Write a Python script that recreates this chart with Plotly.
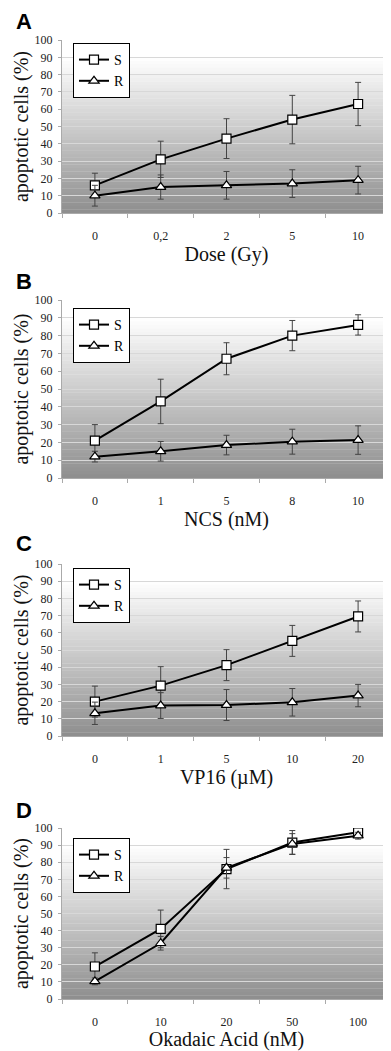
import plotly.graph_objects as go

# ---- data ----
cats_A = ["0", "0,2", "2", "5", "10"]
S_A = [16, 31, 43, 54, 63]
S_A_err = [7, 10.5, 11.5, 14, 12.5]
R_A = [10, 15, 16, 17, 19]
R_A_err = [6, 7, 8, 8, 8]

cats_B = ["0", "1", "5", "8", "10"]
S_B = [21, 43, 67, 80, 86]
S_B_err = [9, 12.5, 9, 8.5, 5.7]
R_B = [12, 15, 18.5, 20.4, 21.3]
R_B_err = [3, 5.5, 5.5, 7, 8]

cats_C = ["0", "1", "5", "10", "20"]
S_C = [20, 29.3, 41.2, 55.3, 69.5]
S_C_err = [9, 11, 9, 9, 9]
R_C = [13.2, 17.7, 18, 19.6, 23.5]
R_C_err = [6.5, 7.5, 9, 8, 6.5]

cats_D = ["0", "10", "20", "50", "100"]
S_D = [19, 41, 76, 91.5, 97.5]
S_D_err = [8, 11, 11.5, 7, 2]
R_D = [10.3, 32.6, 76.7, 90.7, 95.5]
R_D_err = [2, 4, 6, 6, 2]

x_titles = ["Dose (Gy)", "NCS (nM)", "VP16 (\u00b5M)", "Okadaic Acid (nM)"]
panel_letters = ["A", "B", "C", "D"]
y_title = "apoptotic cells (%)"
y_ticks = list(range(0, 101, 10))

panels = [
    (cats_A, S_A, S_A_err, R_A, R_A_err),
    (cats_B, S_B, S_B_err, R_B, R_B_err),
    (cats_C, S_C, S_C_err, R_C, R_C_err),
    (cats_D, S_D, S_D_err, R_D, R_D_err),
]

# page is 391x1051; the html body has an 8px margin, so the figure starts at (8, 8)
OFF = 8
W, H = 391 - OFF, 1051 - OFF
# page-pixel geometry of each plot area (top, bottom)
plot_px = [(40, 213), (300, 478), (564, 736), (828, 999)]
legend_top_px = [43, 308, 568, 838]
letter_px = [22, 282, 543, 810]
x_left_px = 62


def fx(px):
    return (px - OFF) / W


def fy(py):
    return 1 - (py - OFF) / H


SERIF = "Liberation Serif, Times New Roman, DejaVu Serif, serif"
fig = go.Figure()

shapes = []
annotations = []
layout = {}

for i, (cats, S, Se, R, Re) in enumerate(panels):
    n = "" if i == 0 else str(i + 1)
    xa, ya = "x" + n, "y" + n
    leg = "legend" + n
    for name, vals, errs, sym in [("S", S, Se, "square"), ("R", R, Re, "triangle-up")]:
        fig.add_trace(go.Scatter(
            x=cats, y=vals, name=name, xaxis=xa, yaxis=ya, legend=leg,
            mode="lines+markers",
            line=dict(color="black", width=2),
            marker=dict(symbol=sym, size=9, color="white",
                        line=dict(color="black", width=1.2)),
            error_y=dict(type="data", array=errs, visible=True,
                         color="#444", thickness=1, width=3),
        ))
    top, bot = plot_px[i]
    layout["xaxis" + n] = dict(
        domain=[fx(x_left_px), 1.0], anchor=ya, type="category",
        range=[-0.5, 4.5], tickson="boundaries", ticks="outside",
        ticklen=4, tickcolor="#aaa", showline=True, linecolor="#aaa",
        showgrid=False, ticklabelstandoff=12, automargin=False,
        tickfont=dict(family=SERIF, size=12, color="#222"),
        title=dict(text=x_titles[i], standoff=2,
                   font=dict(family=SERIF, size=20, color="#111")),
        fixedrange=True,
    )
    layout["yaxis" + n] = dict(
        domain=[fy(bot), fy(top)], anchor=xa, range=[0, 100], tickvals=y_ticks,
        ticks="outside", ticklen=3, tickcolor="#aaa",
        showline=True, linecolor="#aaa", showgrid=True,
        gridcolor="#d8d8d8", gridwidth=1, zeroline=False,
        ticklabelstandoff=3, automargin=False,
        tickfont=dict(family=SERIF, size=12, color="#222"),
        title=dict(text=y_title, standoff=0,
                   font=dict(family=SERIF, size=20, color="#111")),
        fixedrange=True,
    )
    layout[leg] = dict(
        x=fx(73), y=fy(legend_top_px[i]), xanchor="left", yanchor="top",
        xref="paper", yref="paper",
        bgcolor="white", bordercolor="black", borderwidth=1,
        font=dict(family=SERIF, size=14, color="black"),
        itemwidth=30, tracegroupgap=0,
    )
    # gradient background bands (white at top -> gray at bottom)
    nb = 50
    for b in range(nb):
        t = 1 - (b + 0.5) / nb  # 0 at top, 1 at bottom
        f = max(0.0, (t - 0.1) / 0.9)
        v = int(round(255 - 113 * f))
        shapes.append(dict(
            type="rect", xref=xa + " domain", yref=ya + " domain",
            x0=0, x1=1, y0=b / nb, y1=(b + 1) / nb + 0.002,
            fillcolor=f"rgb({v},{v},{v})", line=dict(width=0), layer="below",
        ))
    annotations.append(dict(
        text="<b>" + panel_letters[i] + "</b>", xref="paper", yref="paper",
        x=fx(24), y=fy(letter_px[i]), xanchor="center", yanchor="middle",
        showarrow=False, font=dict(family="Liberation Sans", size=22, color="black"),
    ))

fig.update_layout(
    width=W, height=H, margin=dict(l=0, r=0, t=0, b=0, autoexpand=False),
    paper_bgcolor="white", plot_bgcolor="white",
    shapes=shapes, annotations=annotations, **layout,
)

fig.write_html("out.html")
